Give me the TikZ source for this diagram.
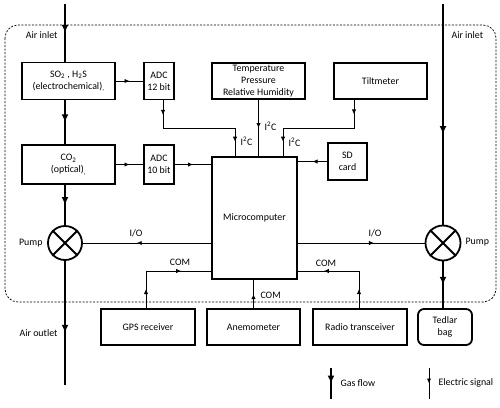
\documentclass[tikz,border=0pt]{standalone}
\usepackage{fontspec}
\setmainfont{Carlito}
\usetikzlibrary{arrows.meta,decorations.markings,positioning}

\begin{document}
\begin{tikzpicture}[x=1pt,y=-1pt,font=\fontsize{9.9pt}{12pt}\selectfont,
  box/.style={draw,line width=1.8pt,align=center,inner sep=1pt},
  gas/.style={line width=2.7pt},
  sig/.style={line width=0.9pt},
  gasarr/.style={postaction={decorate},decoration={markings,mark=at position #1 with {\arrow{Latex[length=8pt,width=7pt]}}}},
  gasarr/.default=0.5,
  sigarr/.style={postaction={decorate},decoration={markings,mark=at position #1 with {\arrow{Latex[length=5pt,width=4.5pt]}}}},
  sigarr/.default=0.5,
  sigtwo/.style 2 args={postaction={decorate},decoration={markings,
    mark=at position #1 with {\arrow{Latex[length=5pt,width=4.5pt]}},
    mark=at position -#2 with {\arrow{Latex[length=5pt,width=4.5pt]}}}}]
\useasboundingbox (0,0) rectangle (500,407);

\draw[line width=0.7pt,dash pattern=on 2pt off 1.5pt,rounded corners=13pt] (5,25) rectangle (496,302);

\node[box,minimum width=93pt,minimum height=37pt] (so2) at (68.5,81) {SO\textsubscript{2} , H\textsubscript{2}S\\(electrochemical)\textsubscript{,}};
\node[box,minimum width=30pt,minimum height=37pt] (adc12) at (159,81) {ADC\\12 bit};
\node[box,minimum width=93pt,minimum height=39pt] (co2) at (68.5,164.5) {CO\textsubscript{2}\\(optical)\textsubscript{,}};
\node[box,minimum width=30pt,minimum height=39pt] (adc10) at (159,164.5) {ADC\\10 bit};
\node[box,minimum width=93pt,minimum height=36pt] (thp) at (258.5,81) {Temperature\\Pressure\\Relative Humidity};
\node[box,minimum width=93pt,minimum height=36pt] (tilt) at (380.5,81) {Tiltmeter};
\node[box,minimum width=39pt,minimum height=37pt] (sd) at (347.5,161.5) {SD\\card};
\node[box,minimum width=85pt,minimum height=122pt] (micro) at (254.5,218) {Microcomputer};
\node[box,circle,minimum size=34pt] (pumpL) at (65,243) {};
\node[box,circle,minimum size=35pt] (pumpR) at (443,243) {};
\draw[line width=1.8pt] (pumpL.north west) -- (pumpL.south east) (pumpL.north east) -- (pumpL.south west);
\draw[line width=1.8pt] (pumpR.north west) -- (pumpR.south east) (pumpR.north east) -- (pumpR.south west);
\node[box,minimum width=94pt,minimum height=36pt] (gps) at (148,327) {GPS receiver};
\node[box,minimum width=93pt,minimum height=36pt] (anemo) at (253.5,327) {Anemometer};
\node[box,minimum width=94pt,minimum height=36pt] (radio) at (360,327) {Radio transceiver};
\node[box,rounded corners=6pt,minimum width=54pt,minimum height=36pt] (tedlar) at (445,327) {Tedlar\\bag};

\coordinate (inL) at (65,4);
\coordinate (outL) at (65,385);
\coordinate (inR) at (443,4);
\draw[gas,gasarr] (inL) -- (inL |- so2.north);
\draw[gas,gasarr] (inL |- so2.south) -- (inL |- co2.north);
\draw[gas,gasarr] (inL |- co2.south) -- (pumpL.north);
\draw[gas,gasarr=0.58] (pumpL.south) -- (outL);
\draw[gas,gasarr=0.59] (inR) -- (pumpR.north);
\draw[gas,gasarr] (pumpR.south) -- (inR |- tedlar.north);

\draw[sig,sigarr] (so2.east) -- (adc12.west);
\draw[sig,sigarr] (co2.east) -- (adc10.west);
\draw[sig,sigarr] (adc10.east) -- (adc10.east -| micro.west);
\draw[sig,sigarr] (sd.west) -- (sd.west -| micro.east);

\coordinate (i2cA) at (235,128);
\coordinate (i2cC) at (283,128);
\coordinate (tiltb) at (354,128);
\draw[sig,sigtwo={14.5pt}{14.5pt}] ([xshift=4pt]adc12.south) |- (i2cA) -- (i2cA |- micro.north);
\draw[sig,sigarr] (thp.south) -- (thp.south |- micro.north);
\draw[sig,sigtwo={14.5pt}{14.5pt}] (tiltb |- tilt.south) -- (tiltb) -- (i2cC) -- (i2cC |- micro.north);
\node[anchor=west] (i2cAlbl) at (237,141) {I\textsuperscript{2}C};
\node[anchor=west] (i2cBlbl) at (261,126) {I\textsuperscript{2}C};
\node[anchor=west] (i2cClbl) at (285,142) {I\textsuperscript{2}C};

\draw[sig,sigarr=0.58] (micro.west |- pumpL) -- (pumpL.east);
\draw[sig,sigarr=0.6] (micro.east |- pumpR) -- (pumpR.west);
\node (ioL) at (136,233) {I/O};
\node (ioR) at (375,233) {I/O};

\coordinate (comL) at (146,271);
\coordinate (comR) at (359,271);
\draw[sig,sigtwo={19pt}{30pt}] (comL |- gps.north) -- (comL) -- (comL -| micro.west);
\draw[sig,sigtwo={19pt}{26pt}] (comR |- radio.north) -- (comR) -- (comR -| micro.east);
\draw[sig,sigarr] (anemo.north) -- (anemo.north |- micro.south);
\node (comLlbl) at (180,262) {COM};
\node (comRlbl) at (326,263) {COM};
\node[anchor=west] (comMlbl) at (257,295) {COM};

\node[anchor=east] (inLlbl) at (61,35) {Air inlet};
\node[anchor=west] (inRlbl) at (448,35) {Air inlet};
\node[anchor=east] (pumpLlbl) at (46,243) {Pump};
\node[anchor=west] (pumpRlbl) at (462,242) {Pump};
\node[anchor=east] (outLlbl) at (61,333) {Air outlet};

\coordinate (gf1) at (331,368);
\coordinate (gf2) at (331,399);
\coordinate (es1) at (429,368);
\coordinate (es2) at (429,399);
\draw[gas,gasarr] (gf1) -- (gf2);
\draw[sig,sigarr] (es1) -- (es2);
\node[anchor=west] (gflbl) at (337,383) {Gas flow};
\node[anchor=west] (eslbl) at (435,383) {Electric signal};
\end{tikzpicture}
\end{document}
